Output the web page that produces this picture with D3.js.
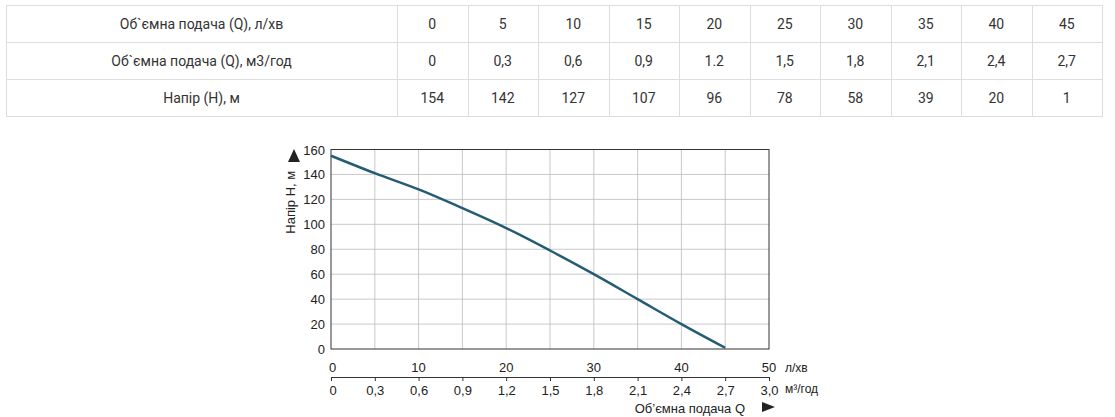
<!DOCTYPE html>
<html>
<head>
<meta charset="utf-8">
<script src="https://cdn.jsdelivr.net/npm/d3@7"></script>
<style>
  body { margin: 0; background: #fff; }
</style>
</head>
<body>
<script>
// table data
const rowLabels = ["Об`ємна подача (Q), л/хв", "Об`ємна подача (Q), м3/год", "Напір (H), м"];
const flowLpm = ["0", "5", "10", "15", "20", "25", "30", "35", "40", "45"];
const flowM3 = ["0", "0,3", "0,6", "0,9", "1.2", "1,5", "1,8", "2,1", "2,4", "2,7"];
const headTable = ["154", "142", "127", "107", "96", "78", "58", "39", "20", "1"];

// curve as drawn on the chart (l/min -> m)
const curveQ = [0, 5, 10, 15, 20, 25, 30, 35, 40, 45];
const curveH = [155, 141, 128, 113, 97, 79, 60, 40, 20, 1];

const topTicks = [0, 10, 20, 30, 40, 50];
const bottomTicks = ["0", "0,3", "0,6", "0,9", "1,2", "1,5", "1,8", "2,1", "2,4", "2,7", "3,0"];

const width = 1115, height = 417;
const svg = d3.select("body").append("svg")
    .attr("width", width).attr("height", height);

// ---- table ----
const tLeft = 6, tRight = 1102, firstCol = 397, rowH = 37, tTop = 5;
const colX = d3.scaleBand().domain(d3.range(10)).range([firstCol, tRight]);
const rows = [flowLpm, flowM3, headTable];
const table = svg.append("g").attr("font-family", "Roboto, sans-serif")
    .attr("font-size", 14).attr("fill", "#333");

table.append("rect").attr("x", tLeft + 0.5).attr("y", tTop + 0.5)
    .attr("width", tRight - tLeft).attr("height", rowH * 3)
    .attr("fill", "none").attr("stroke", "#ddd");
for (let i = 1; i < 3; i++) {
  table.append("line").attr("x1", tLeft).attr("x2", tRight)
      .attr("y1", tTop + rowH * i + 0.5).attr("y2", tTop + rowH * i + 0.5).attr("stroke", "#ddd");
}
[firstCol].concat(d3.range(1, 10).map(i => colX(i))).forEach(x => {
  table.append("line").attr("x1", Math.round(x) + 0.5).attr("x2", Math.round(x) + 0.5)
      .attr("y1", tTop).attr("y2", tTop + rowH * 3).attr("stroke", "#ddd");
});
rows.forEach((vals, r) => {
  const y = tTop + rowH * r + rowH / 2 + 5;
  table.append("text").attr("x", (tLeft + firstCol) / 2).attr("y", y)
      .attr("text-anchor", "middle").text(rowLabels[r]);
  vals.forEach((v, i) => {
    table.append("text").attr("x", colX(i) + colX.bandwidth() / 2).attr("y", y)
        .attr("text-anchor", "middle").text(v);
  });
});

// ---- chart ----
const pl = 331, pr = 769, pt = 149.5, pb = 349;
const x = d3.scaleLinear().domain([0, 50]).range([pl, pr]);
const x2 = d3.scaleLinear().domain([0, 3]).range([pl, pr]);
const y = d3.scaleLinear().domain([0, 160]).range([pb, pt]);

const g = svg.append("g").attr("font-family", "'Liberation Sans', Arial, sans-serif")
    .attr("font-size", 13).attr("fill", "#222");

// grid
g.append("g").selectAll("line").data(d3.range(5, 50, 5)).join("line")
    .attr("x1", d => x(d)).attr("x2", d => x(d)).attr("y1", pt).attr("y2", pb)
    .attr("stroke", "#bbb").attr("stroke-width", 0.8);
g.append("g").selectAll("line").data(d3.range(20, 160, 20)).join("line")
    .attr("x1", pl).attr("x2", pr).attr("y1", d => y(d)).attr("y2", d => y(d))
    .attr("stroke", "#bbb").attr("stroke-width", 0.8);
g.append("rect").attr("x", pl).attr("y", pt).attr("width", pr - pl).attr("height", pb - pt)
    .attr("fill", "none").attr("stroke", "#333").attr("stroke-width", 1);

// y labels
g.append("g").selectAll("text").data(d3.range(0, 161, 20)).join("text")
    .attr("x", pl - 6).attr("y", d => y(d) + 5).attr("text-anchor", "end").text(d => d);
g.append("text").attr("transform", `translate(${pl - 36},${(pt + 245) / 2 + 5}) rotate(-90)`)
    .attr("text-anchor", "middle").text("Напір H, м");
g.append("path").attr("d", `M${pl - 43},162 L${pl - 37},149 L${pl - 31},162 Z`).attr("fill", "#222");

// top x labels (l/min)
g.append("g").selectAll("text").data(topTicks).join("text")
    .attr("x", d => x(d)).attr("y", 372).attr("text-anchor", d => d === 0 ? "start" : "middle")
    .attr("dx", d => d === 0 ? -2 : 0).text(d => d);
g.append("text").attr("x", pr + 16).attr("y", 372).attr("font-size", 12).text("л/хв");

// bottom axis (m3/h)
const axis = g.append("g").attr("transform", "translate(0,377)")
    .call(d3.axisBottom(x2).tickValues(d3.range(0, 3.01, 0.3)).tickSize(4).tickFormat((d, i) => bottomTicks[i]));
axis.select(".domain").attr("stroke", "#333");
axis.selectAll(".tick line").attr("stroke", "#333");
axis.selectAll(".tick text").attr("font-family", "'Liberation Sans', Arial, sans-serif")
    .attr("font-size", 13).attr("fill", "#222").attr("dy", "0.85em");
axis.select(".tick text").attr("text-anchor", "start").attr("dx", -2);
g.append("text").attr("x", pr + 16).attr("y", 393).attr("font-size", 12).text("м³/год");
g.append("text").attr("x", 745).attr("y", 413).attr("text-anchor", "end").text("Об’ємна подача Q");
g.append("path").attr("d", "M762,402 L775,407 L762,412 Z").attr("fill", "#222");

// curve
g.append("path").datum(curveQ.map((q, i) => [q, curveH[i]]))
    .attr("d", d3.line().x(d => x(d[0])).y(d => y(d[1])).curve(d3.curveCatmullRom))
    .attr("fill", "none").attr("stroke", "#245c73").attr("stroke-width", 2.5);
</script>
</body>
</html>
